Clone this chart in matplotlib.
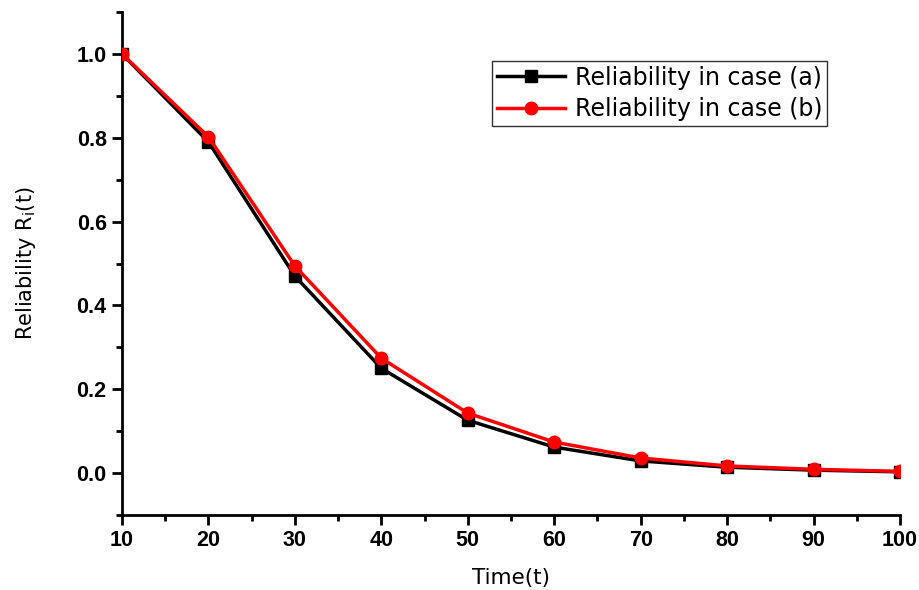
import matplotlib
matplotlib.use("Agg")
import matplotlib.pyplot as plt
from matplotlib.ticker import MultipleLocator, FixedLocator

time = [10, 20, 30, 40, 50, 60, 70, 80, 90, 100]
rel_a = [1.0, 0.790, 0.470, 0.250, 0.126, 0.062, 0.029, 0.014, 0.007, 0.003]
rel_b = [1.0, 0.802, 0.494, 0.274, 0.143, 0.074, 0.036, 0.017, 0.009, 0.004]
label_a = "Reliability in case (a)"
label_b = "Reliability in case (b)"
xticks = [10, 20, 30, 40, 50, 60, 70, 80, 90, 100]
yticks = [0.0, 0.2, 0.4, 0.6, 0.8, 1.0]

fig = plt.figure(figsize=(9.2, 5.9), dpi=100)
ax = fig.add_axes([122/920, 75/590, (900-122)/920, (515-12)/590])

ax.plot(time, rel_a, color="black", lw=2.5, marker="s", ms=8, label=label_a, zorder=3)
ax.plot(time, rel_b, color="red", lw=2.5, marker="o", ms=9, label=label_b, zorder=4)

ax.set_xlim(10, 100)
ax.set_ylim(-0.1, 1.1)
ax.set_xticks(xticks)
ax.set_yticks(yticks)
ax.xaxis.set_minor_locator(MultipleLocator(5))
ax.yaxis.set_minor_locator(FixedLocator([-0.1, 0.1, 0.3, 0.5, 0.7, 0.9, 1.1]))
ax.set_xticklabels([str(v) for v in xticks])
ax.set_yticklabels([f"{v:.1f}" for v in yticks])

for s in ["top", "right"]:
    ax.spines[s].set_visible(False)
for s in ["left", "bottom"]:
    ax.spines[s].set_linewidth(2)

ax.tick_params(which="major", direction="out", length=7, width=2,
               labelsize=15.5, pad=4)
ax.tick_params(which="minor", direction="out", length=4, width=2)
for lab in ax.get_xticklabels() + ax.get_yticklabels():
    lab.set_fontfamily("Liberation Sans")
    lab.set_fontweight("bold")

ax.set_xlabel("Time(t)", fontsize=15.5, fontfamily="DejaVu Sans", labelpad=12)
ax.set_ylabel(r"Reliability R$_\mathregular{i}$(t)", fontsize=15,
              fontfamily="DejaVu Sans", labelpad=28)

leg = ax.legend(loc="upper left", bbox_to_anchor=((492-122)/778, (515-61)/503),
                prop={"family": "DejaVu Sans", "size": 17},
                frameon=True, fancybox=False, edgecolor="black",
                borderpad=0.2, handlelength=2.9, handletextpad=0.4,
                labelspacing=0.3, borderaxespad=0)
leg.get_frame().set_linewidth(1)

fig.savefig("out.png", dpi=100)
